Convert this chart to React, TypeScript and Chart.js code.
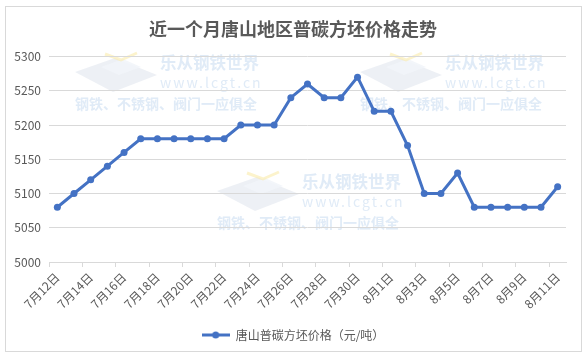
import { useEffect, useRef } from 'react';
import { Chart, registerables } from 'chart.js';

Chart.register(...registerables);

const dates = [
  '7月12日', '7月13日', '7月14日', '7月15日', '7月16日', '7月17日', '7月18日', '7月19日',
  '7月20日', '7月21日', '7月22日', '7月23日', '7月24日', '7月25日', '7月26日', '7月27日',
  '7月28日', '7月29日', '7月30日', '7月31日', '8月1日', '8月2日', '8月3日', '8月4日',
  '8月5日', '8月6日', '8月7日', '8月8日', '8月9日', '8月10日', '8月11日',
];

const prices = [
  5080, 5100, 5120, 5140, 5160, 5180, 5180, 5180,
  5180, 5180, 5180, 5200, 5200, 5200, 5240, 5260,
  5240, 5240, 5270, 5220, 5220, 5170, 5100, 5100,
  5130, 5080, 5080, 5080, 5080, 5080, 5110,
];

const seriesName = '唐山普碳方坯价格（元/吨）';
const titleText = '近一个月唐山地区普碳方坯价格走势';
const watermarkTitle = '乐从钢铁世界';
const watermarkUrl = 'www.lcgt.cn';
const watermarkSlogan = '钢铁、不锈钢、阀门一应俱全';

const FONT = '"Noto Sans CJK SC", "Noto Sans", sans-serif';
const LINE = '#4472C4';
const TEXT = '#595959';
const GRID = '#d9d9d9';

function drawWatermark(ctx: CanvasRenderingContext2D, L: number, B: number) {
  ctx.save();
  ctx.fillStyle = 'rgba(210,218,230,0.4)';
  ctx.beginPath();
  ctx.moveTo(L, B + 9);
  ctx.lineTo(L + 40, B - 5);
  ctx.lineTo(L + 82, B + 12);
  ctx.lineTo(L + 38, B + 29);
  ctx.closePath();
  ctx.fill();
  ctx.fillStyle = 'rgba(242,245,250,0.9)';
  ctx.beginPath();
  ctx.moveTo(L + 26, B + 4);
  ctx.lineTo(L + 48, B - 4);
  ctx.lineTo(L + 66, B + 4);
  ctx.lineTo(L + 44, B + 12);
  ctx.closePath();
  ctx.fill();
  ctx.strokeStyle = 'rgba(250,235,170,0.6)';
  ctx.lineWidth = 3;
  ctx.beginPath();
  ctx.moveTo(L + 30, B - 9);
  ctx.lineTo(L + 46, B - 3);
  ctx.lineTo(L + 62, B - 10);
  ctx.stroke();
  ctx.fillStyle = '#e0ebf7';
  ctx.textBaseline = 'middle';
  ctx.textAlign = 'left';
  ctx.font = `bold 16.5px ${FONT}`;
  ctx.fillText(watermarkTitle, L + 85, B);
  ctx.font = `14px ${FONT}`;
  (ctx as any).letterSpacing = '2px';
  ctx.fillText(watermarkUrl, L + 85, B + 20);
  (ctx as any).letterSpacing = '0px';
  ctx.font = `bold 14px ${FONT}`;
  ctx.fillText(watermarkSlogan, L, B + 41);
  ctx.restore();
}

const watermarkPlugin = {
  id: 'watermark',
  beforeDraw(chart: any) {
    const ctx = chart.ctx as CanvasRenderingContext2D;
    drawWatermark(ctx, 75, 63);
    drawWatermark(ctx, 360, 63);
    drawWatermark(ctx, 217, 182);
  },
};

export default function App() {
  const ref = useRef<HTMLCanvasElement>(null);

  useEffect(() => {
    if (!ref.current) return;
    const icon = document.createElement('canvas');
    icon.width = 28;
    icon.height = 8;
    const ic = icon.getContext('2d')!;
    ic.strokeStyle = LINE;
    ic.lineWidth = 3;
    ic.beginPath();
    ic.moveTo(0, 4);
    ic.lineTo(28, 4);
    ic.stroke();
    ic.fillStyle = LINE;
    ic.beginPath();
    ic.arc(14, 4, 3.5, 0, Math.PI * 2);
    ic.fill();

    const chart = new Chart(ref.current, {
      type: 'line',
      data: {
        labels: dates,
        datasets: [
          {
            label: seriesName,
            data: prices,
            borderColor: LINE,
            backgroundColor: LINE,
            borderWidth: 3,
            pointRadius: 3.5,
            pointBackgroundColor: LINE,
            pointBorderWidth: 0,
            tension: 0,
          },
        ],
      },
      options: {
        responsive: false,
        animation: false,
        devicePixelRatio: 1,
        layout: { padding: { left: 0, right: 0, top: 0, bottom: 9 } },
        plugins: {
          title: {
            display: true,
            text: titleText,
            color: TEXT,
            font: { family: FONT, size: 18, weight: 'bold' },
            padding: { top: 18, bottom: 17 },
          },
          legend: {
            position: 'bottom',
            labels: {
              usePointStyle: true,
              pointStyle: icon as any,
              pointStyleWidth: 28,
              color: TEXT,
              font: { family: FONT, size: 12 },
              padding: 12,
            },
          },
          tooltip: { enabled: false },
        },
        scales: {
          x: {
            type: 'category',
            offset: true,
            grid: {
              offset: true,
              drawOnChartArea: false,
              drawTicks: true,
              tickLength: 5,
              color: (c: any) => (c.index !== undefined && c.index % 2 === 0 ? GRID : 'rgba(0,0,0,0)'),
            },
            border: { color: GRID },
            ticks: {
              autoSkip: false,
              maxRotation: 45,
              minRotation: 45,
              color: TEXT,
              font: { family: FONT, size: 12 },
              callback: (_v: any, i: number) => (i % 2 === 0 ? dates[i] : ''),
            },
            afterFit: (s: any) => {
              s.height = 55;
            },
          },
          y: {
            min: 5000,
            max: 5300,
            ticks: {
              stepSize: 50,
              color: TEXT,
              font: { family: FONT, size: 12 },
              padding: 8,
              callback: (v: any) => String(v),
            },
            grid: { color: GRID, drawTicks: false },
            border: { display: false },
            afterFit: (s: any) => {
              s.width = 49;
            },
          },
          yRight: {
            position: 'right',
            display: true,
            ticks: { display: false },
            grid: { display: false },
            border: { display: false },
            afterFit: (s: any) => {
              s.width = 20;
            },
          },
        },
      },
      plugins: [watermarkPlugin],
    });
    return () => chart.destroy();
  }, []);

  return (
    <div style={{ position: 'fixed', left: 0, top: 0, width: 586, height: 360, background: '#fff' }}>
      <canvas ref={ref} width={586} height={360} style={{ display: 'block', width: 586, height: 360 }} />
      <div
        style={{
          position: 'absolute',
          left: 5,
          top: 6,
          width: 577,
          height: 346,
          border: `1px solid ${GRID}`,
          boxSizing: 'border-box',
          pointerEvents: 'none',
        }}
      />
    </div>
  );
}
